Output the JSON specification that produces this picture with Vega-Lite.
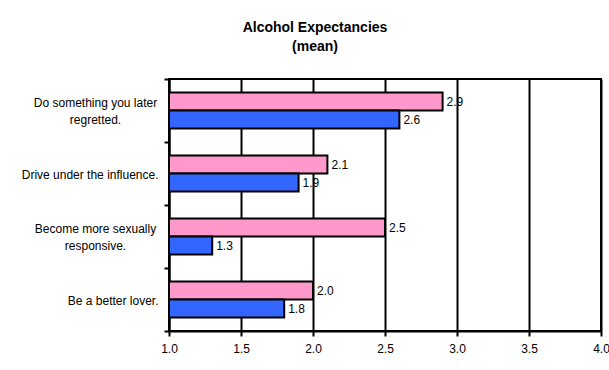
{
  "$schema": "https://vega.github.io/schema/vega-lite/v6.json",
  "width": 432,
  "height": 252,
  "autosize": {"type": "none"},
  "padding": {"left": 169, "top": 79, "right": 8, "bottom": 39},
  "background": "white",
  "title": {
    "text": ["Alcohol Expectancies", "(mean)"],
    "anchor": "middle",
    "dx": -70,
    "offset": 19,
    "fontSize": 14,
    "fontWeight": "bold",
    "lineHeight": 19,
    "color": "black"
  },
  "data": {
    "values": [
      {"item": "Do something you later regretted.", "series": "1", "mean": 2.9},
      {"item": "Do something you later regretted.", "series": "2", "mean": 2.6},
      {"item": "Drive under the influence.", "series": "1", "mean": 2.1},
      {"item": "Drive under the influence.", "series": "2", "mean": 1.9},
      {"item": "Become more sexually responsive.", "series": "1", "mean": 2.5},
      {"item": "Become more sexually responsive.", "series": "2", "mean": 1.3},
      {"item": "Be a better lover.", "series": "1", "mean": 2.0},
      {"item": "Be a better lover.", "series": "2", "mean": 1.8}
    ]
  },
  "encoding": {
    "y": {
      "field": "item",
      "type": "nominal",
      "sort": null,
      "scale": {"paddingInner": 0, "paddingOuter": 0},
      "axis": {
        "title": null,
        "tickBand": "extent",
        "tickSize": 5,
        "tickWidth": 2,
        "tickColor": "black",
        "domainColor": "black",
        "domainWidth": 2,
        "labelFontSize": 12,
        "labelColor": "black",
        "labelLineHeight": 17,
        "labelLimit": 200,
        "labelOverlap": false,
        "labelExpr": "datum.value === 'Do something you later regretted.' ? ['Do something you later', 'regretted.'] : datum.value === 'Become more sexually responsive.' ? ['Become more sexually', 'responsive.'] : datum.label",
        "labelAlign": {
          "condition": {"test": "datum.value === 'Do something you later regretted.' || datum.value === 'Become more sexually responsive.'", "value": "center"},
          "value": "right"
        },
        "labelPadding": {
          "condition": {"test": "datum.value === 'Do something you later regretted.' || datum.value === 'Become more sexually responsive.'", "value": 69},
          "value": 6
        },
        "labelOffset": {
          "condition": {"test": "datum.value === 'Do something you later regretted.' || datum.value === 'Become more sexually responsive.'", "value": -8},
          "value": 1
        }
      }
    },
    "yOffset": {
      "field": "series",
      "type": "nominal",
      "scale": {"paddingInner": 0, "paddingOuter": 0.75}
    },
    "x": {
      "field": "mean",
      "type": "quantitative",
      "scale": {"domain": [1, 4], "nice": false, "zero": false},
      "axis": {
        "title": null,
        "values": [1, 1.5, 2, 2.5, 3, 3.5, 4],
        "format": ".1f",
        "grid": true,
        "gridColor": "black",
        "gridWidth": 2,
        "gridOpacity": 1,
        "domainColor": "black",
        "domainWidth": 2,
        "tickColor": "black",
        "tickWidth": 2,
        "tickSize": 5,
        "labelPadding": 7,
        "labelFontSize": 12,
        "labelColor": "black",
        "labelFlush": false,
        "labelOverlap": false
      }
    }
  },
  "layer": [
    {
      "mark": {"type": "bar", "stroke": "black", "strokeWidth": 2},
      "encoding": {
        "x2": {"datum": 1},
        "color": {
          "field": "series",
          "type": "nominal",
          "scale": {"domain": ["1", "2"], "range": ["#FF99CC", "#3366FF"]},
          "legend": null
        },
        "opacity": {"value": 1}
      }
    },
    {
      "mark": {"type": "text", "align": "left", "baseline": "middle", "dx": 4, "fontSize": 12, "color": "black"},
      "encoding": {
        "text": {"field": "mean", "type": "quantitative", "format": ".1f"}
      }
    }
  ],
  "config": {
    "font": "Liberation Sans",
    "view": {"stroke": "black", "strokeWidth": 2}
  }
}
